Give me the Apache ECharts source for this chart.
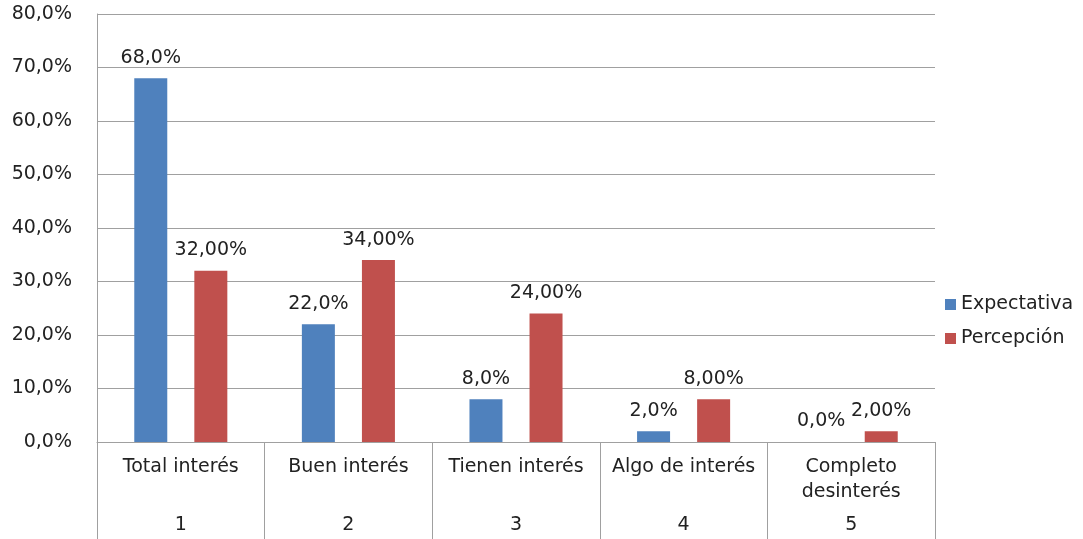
<!DOCTYPE html>
<html>
<head>
<meta charset="utf-8">
<script src="https://cdn.jsdelivr.net/npm/echarts@6/dist/echarts.min.js"></script>
<style>
  html, body { margin: 0; padding: 0; background: #fff; }
  #chart { width: 1083px; height: 539px; }
</style>
</head>
<body>
<div id="chart"></div>
<script>
// datos del grafico
const categorias = ['Total interés', 'Buen interés', 'Tienen interés', 'Algo de interés', 'Completo\ndesinterés']
const numeros = ['1', '2', '3', '4', '5']
const expectativa = [68, 22, 8, 2, 0]
const percepcion = [32, 34, 24, 8, 2]

const fuente = 'DejaVu Sans'
const gris = '#a0a0a0'

function pct(v, dec) {
  return v.toFixed(dec).replace('.', ',') + '%'
}

const chart = echarts.init(document.getElementById('chart'))
chart.setOption({
  animation: false,
  textStyle: { fontFamily: fuente },
  grid: { left: 97, right: 148, top: 14, bottom: 97 },
  legend: {
    orient: 'vertical',
    left: 940,
    top: 290,
    itemWidth: 11,
    itemHeight: 11,
    itemGap: 15,
    icon: 'rect',
    textStyle: { fontSize: 19, color: '#222', fontFamily: fuente },
    data: ['Expectativa', 'Percepción']
  },
  xAxis: [{
    type: 'category',
    data: categorias,
    axisLine: { lineStyle: { color: gris } },
    axisTick: { show: true, interval: 0, length: 97, lineStyle: { color: gris } },
    axisLabel: { fontSize: 19, color: '#222', margin: 13, lineHeight: 25, interval: 0 }
  }, {
    type: 'category',
    position: 'bottom',
    data: numeros,
    axisLine: { show: false },
    axisTick: { show: false },
    axisLabel: { fontSize: 19, color: '#222', margin: 74, interval: 0 }
  }],
  yAxis: {
    type: 'value',
    min: 0,
    max: 80,
    interval: 10,
    axisLine: { show: true, lineStyle: { color: gris } },
    axisTick: { show: false },
    splitLine: { lineStyle: { color: gris } },
    axisLabel: {
      fontSize: 19, color: '#222', margin: 25,
      formatter: v => pct(v, 1)
    }
  },
  series: [{
    name: 'Expectativa',
    type: 'bar',
    data: expectativa,
    barWidth: 33,
    barGap: '82%',
    itemStyle: { color: '#4f81bd' },
    label: {
      show: true, position: 'top', distance: 11,
      fontSize: 19, color: '#222',
      formatter: p => pct(p.value, 1)
    }
  }, {
    name: 'Percepción',
    type: 'bar',
    data: percepcion,
    barWidth: 33,
    itemStyle: { color: '#c0504d' },
    label: {
      show: true, position: 'top', distance: 11,
      fontSize: 19, color: '#222',
      formatter: p => pct(p.value, 2)
    }
  }]
})
</script>
</body>
</html>
